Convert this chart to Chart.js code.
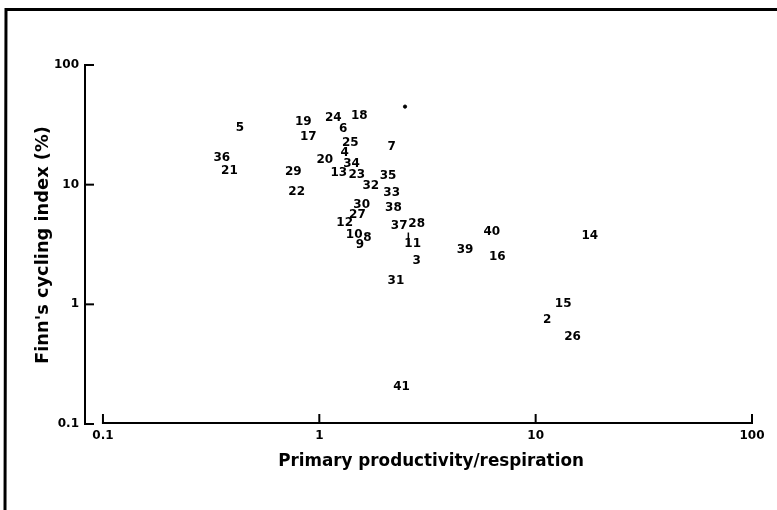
<!DOCTYPE html>
<html>
<head>
<meta charset="utf-8">
<script src="https://cdn.jsdelivr.net/npm/chart.js@4.4.1/dist/chart.umd.min.js"></script>
<style>
html,body{margin:0;padding:0;background:#fff;}
#wrap{width:777px;height:510px;}
</style>
</head>
<body>
<div id="wrap"><canvas id="c" width="777" height="510"></canvas></div>
<script>
// ---- data ----
const siteLabels = ["5","19","24","18","6","17","25","7","4","36","20","34","21","29","13","23","35","32","22","33","30","38","27","12","37","28","10","9","8","11","3","31","39","40","16","14","15","2","26","41"];
const prRatio = [0.43,0.843,1.16,1.53,1.29,0.89,1.39,2.16,1.31,0.354,1.06,1.41,0.384,0.758,1.23,1.49,2.08,1.73,0.786,2.16,1.57,2.20,1.50,1.31,2.34,2.82,1.45,1.54,1.67,2.70,2.82,2.26,4.72,6.27,6.65,17.8,13.4,11.3,14.8,2.40];
const finnIndex = [30.0,33.7,36.0,37.8,29.3,25.3,22.5,20.5,18.4,16.7,16.2,15.0,13.1,12.7,12.5,12.1,11.9,9.68,8.69,8.53,6.81,6.40,5.62,4.80,4.49,4.73,3.83,3.16,3.59,3.22,2.30,1.58,2.87,4.03,2.50,3.71,1.00,0.74,0.534,0.205];
const dotX = [2.49];
const dotY = [44.9];
const leaderX = [2.58];
const leaderY = [3.48];
const xTicks = [0.1, 1, 10, 100];
const xTickLabels = ["0.1", "1", "10", "100"];
const yTicks = [0.1, 1, 10, 100];
const yTickLabels = ["0.1", "1", "10", "100"];
const xTitle = "Primary productivity/respiration";
const yTitle = "Finn's cycling index (%)";

const FONT = "'DejaVu Sans', sans-serif";

const decor = {
  id: 'decor',
  beforeDraw(chart) {
    const ctx = chart.ctx;
    ctx.save();
    ctx.fillStyle = '#fff';
    ctx.fillRect(0, 0, chart.width, chart.height);
    ctx.strokeStyle = '#000';
    ctx.lineWidth = 3;
    ctx.beginPath();
    ctx.moveTo(5, 510); ctx.lineTo(6, 9.5); ctx.lineTo(777, 9.5);
    ctx.stroke();
    ctx.restore();
  },
  afterDraw(chart) {
    const ctx = chart.ctx;
    const xs = chart.scales.x, ys = chart.scales.y;
    const ca = chart.chartArea;
    ctx.save();
    ctx.strokeStyle = '#000';
    ctx.lineWidth = 2;
    ctx.lineCap = 'butt';
    // y axis
    const ax = ca.left;
    const yTop = ys.getPixelForValue(yTicks[yTicks.length - 1]);
    const yBot = ys.getPixelForValue(yTicks[0]);
    ctx.beginPath();
    ctx.moveTo(ax, yTop - 1); ctx.lineTo(ax, yBot + 1);
    ctx.stroke();
    yTicks.forEach(v => {
      const p = ys.getPixelForValue(v);
      ctx.beginPath(); ctx.moveTo(ax - 1, p); ctx.lineTo(ax + 9, p); ctx.stroke();
    });
    // x axis
    const ay = ca.bottom - 1;
    const x0 = xs.getPixelForValue(xTicks[0]);
    const x1 = xs.getPixelForValue(xTicks[xTicks.length - 1]);
    ctx.beginPath();
    ctx.moveTo(x0 - 1, ay); ctx.lineTo(x1 + 1, ay);
    ctx.stroke();
    xTicks.forEach(v => {
      const p = xs.getPixelForValue(v);
      ctx.beginPath(); ctx.moveTo(p, ay + 1); ctx.lineTo(p, ay - 9); ctx.stroke();
    });
    // axis titles
    ctx.fillStyle = '#000';
    ctx.textAlign = 'center';
    ctx.textBaseline = 'middle';
    ctx.font = "bold 15px " + FONT;
    let w = ctx.measureText(xTitle).width;
    let fs = 15 * 306 / w;
    ctx.font = "bold " + fs.toFixed(2) + "px " + FONT;
    ctx.fillText(xTitle, 431, 462);
    ctx.save();
    ctx.translate(43, 245);
    ctx.rotate(-Math.PI / 2);
    ctx.font = "bold 15px " + FONT;
    w = ctx.measureText(yTitle).width;
    fs = 15 * 238 / w;
    ctx.font = "bold " + fs.toFixed(2) + "px " + FONT;
    ctx.fillText(yTitle, 0, 0);
    ctx.restore();
    ctx.restore();
  },
  afterDatasetsDraw(chart) {
    const ctx = chart.ctx;
    const meta = chart.getDatasetMeta(0);
    ctx.save();
    ctx.fillStyle = '#000';
    ctx.font = "bold 12px " + FONT;
    ctx.textAlign = 'center';
    ctx.textBaseline = 'middle';
    meta.data.forEach((el, i) => {
      ctx.fillText(siteLabels[i], el.x, el.y);
    });
    ctx.restore();
  }
};

new Chart(document.getElementById('c'), {
  type: 'scatter',
  data: {
    datasets: [
      {
        data: prRatio.map((x, i) => ({ x: x, y: finnIndex[i] })),
        pointRadius: 0,
        pointHoverRadius: 0
      },
      {
        data: dotX.map((x, i) => ({ x: x, y: dotY[i] })),
        pointRadius: 1.6,
        backgroundColor: '#000',
        borderColor: '#000'
      },
      {
        data: leaderX.map((x, i) => ({ x: x, y: leaderY[i] })),
        pointStyle: 'line',
        rotation: 90,
        pointRadius: 7,
        borderWidth: 1.5,
        borderColor: '#000'
      }
    ]
  },
  options: {
    responsive: false,
    animation: false,
    events: [],
    plugins: { legend: { display: false }, tooltip: { enabled: false } },
    layout: { padding: { top: 65, right: 25, left: 0, bottom: 0 } },
    scales: {
      x: {
        type: 'logarithmic',
        min: 0.0826,
        max: 100,
        grid: { display: false, drawTicks: false },
        border: { display: false },
        afterBuildTicks: s => { s.ticks = xTicks.map(v => ({ value: v })); },
        afterFit: s => { s.height = 86; },
        ticks: {
          autoSkip: false,
          maxRotation: 0,
          padding: 5,
          color: '#000',
          font: { family: FONT, size: 12, weight: 'bold' },
          callback: (v, i) => xTickLabels[i]
        }
      },
      y: {
        type: 'logarithmic',
        min: 0.1,
        max: 100,
        grid: { display: false, drawTicks: false },
        border: { display: false },
        afterBuildTicks: s => { s.ticks = yTicks.map(v => ({ value: v })); },
        afterFit: s => { s.width = 85; },
        ticks: {
          autoSkip: false,
          padding: 6,
          color: '#000',
          font: { family: FONT, size: 12, weight: 'bold' },
          callback: (v, i) => yTickLabels[i]
        }
      }
    }
  },
  plugins: [decor]
});
</script>
</body>
</html>
